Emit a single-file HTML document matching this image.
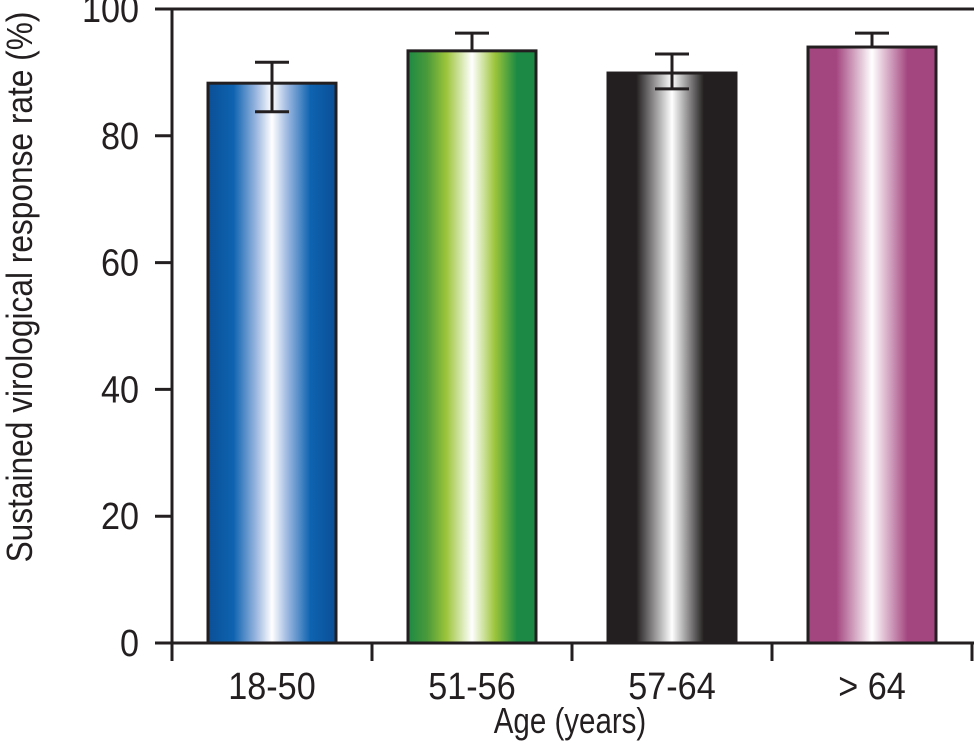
<!DOCTYPE html>
<html><head><meta charset="utf-8"><style>
body{margin:0;background:#fff;}
svg text{font-family:"Liberation Sans",sans-serif;fill:#231f20;}
</style></head><body>
<svg id="c" width="974" height="741">
<defs>
<linearGradient id="g0" x1="0" x2="1"><stop offset="0" stop-color="#0b4f96"/><stop offset="0.2" stop-color="#0e63b0"/><stop offset="0.38" stop-color="#9db8e0"/><stop offset="0.5" stop-color="#ffffff"/><stop offset="0.62" stop-color="#9db8e0"/><stop offset="0.8" stop-color="#0e63b0"/><stop offset="1" stop-color="#0b4f96"/></linearGradient>
<linearGradient id="g1" x1="0" x2="1"><stop offset="0" stop-color="#1c8a44"/><stop offset="0.15" stop-color="#4a9a3a"/><stop offset="0.3" stop-color="#9cc43a"/><stop offset="0.5" stop-color="#ffffff"/><stop offset="0.68" stop-color="#9cc43a"/><stop offset="0.85" stop-color="#1c8a44"/><stop offset="1" stop-color="#1c8a44"/></linearGradient>
<linearGradient id="g2" x1="0" x2="1"><stop offset="0" stop-color="#231f20"/><stop offset="0.22" stop-color="#231f20"/><stop offset="0.5" stop-color="#ffffff"/><stop offset="0.75" stop-color="#231f20"/><stop offset="1" stop-color="#231f20"/></linearGradient>
<linearGradient id="g3" x1="0" x2="1"><stop offset="0" stop-color="#a3457f"/><stop offset="0.22" stop-color="#a3457f"/><stop offset="0.5" stop-color="#ffffff"/><stop offset="0.78" stop-color="#a3457f"/><stop offset="1" stop-color="#a3457f"/></linearGradient>
</defs>
<g id="plot"></g>
</svg>
<script>
const categories=["18-50","51-56","57-64","> 64"];
const values=[88.3,93.4,89.9,94.0];
const errHigh=[91.6,96.2,92.9,96.2];
const errLow=[83.8,null,87.4,null];
const yTicks=[0,20,40,60,80,100];
const NS="http://www.w3.org/2000/svg";
const g=document.getElementById('plot');
const y0=643,y1=9,xL=172,bandW=200;
const y=v=>y0-(v/100)*(y0-y1);
const xc=i=>xL+bandW*(i+0.5);
function mk(t,a){const e=document.createElementNS(NS,t);for(const k in a)e.setAttribute(k,a[k]);g.appendChild(e);return e;}
let e;
e=mk('line',{x1:155,y1:9,x2:974,y2:9,stroke:'#231f20','stroke-width':3});


e=mk('line',{x1:172,y1:9,x2:172,y2:643,stroke:'#231f20','stroke-width':3});


yTicks.forEach(t=>{
 let l=mk('line',{x1:155,y1:y(t),x2:172,y2:y(t),stroke:'#231f20','stroke-width':3});
 
 
 let tx=mk('text',{x:0,y:0,'text-anchor':'end','font-size':38,transform:`translate(139,${y(t)+13}) scale(0.9,1)`});
 tx.textContent=t;
 
 
});
categories.forEach((c,i)=>{
 const w=128,x=xc(i)-w/2;
 let r=mk('rect',{x:x,y:y(values[i]),width:w,height:y0-y(values[i]),fill:`url(#g${i})`,stroke:'#231f20','stroke-width':3});
 
 
 const lo=errLow[i]==null?values[i]:errLow[i];
 let el=mk('line',{x1:xc(i),y1:y(errHigh[i]),x2:xc(i),y2:y(lo),stroke:'#231f20','stroke-width':3});
 
 
 let ct=mk('line',{x1:xc(i)-17,y1:y(errHigh[i]),x2:xc(i)+17,y2:y(errHigh[i]),stroke:'#231f20','stroke-width':3});
 
 
 if(errLow[i]!=null){
  let cb=mk('line',{x1:xc(i)-17,y1:y(lo),x2:xc(i)+17,y2:y(lo),stroke:'#231f20','stroke-width':3});
  
  
 }
 let tx=mk('text',{x:0,y:0,'text-anchor':'middle','font-size':38,transform:`translate(${xc(i)},699) scale(0.9,1)`});
 tx.textContent=c;
 
 
});
for(let i=0;i<=categories.length;i++){
 let l=mk('line',{x1:xL+bandW*i,y1:643,x2:xL+bandW*i,y2:661,stroke:'#231f20','stroke-width':3});
 
 
}
e=mk('line',{x1:155,y1:643,x2:974,y2:643,stroke:'#231f20','stroke-width':3});


e=mk('text',{x:0,y:0,'text-anchor':'middle','font-size':36,transform:'translate(570,733) scale(0.82,1)'});
e.textContent='Age (years)';


e=mk('text',{x:0,y:0,'text-anchor':'middle','font-size':36,transform:'translate(32,287) rotate(-90) scale(0.88,1)'});
e.textContent='Sustained virological response rate (%)';


</script>
</body></html>
